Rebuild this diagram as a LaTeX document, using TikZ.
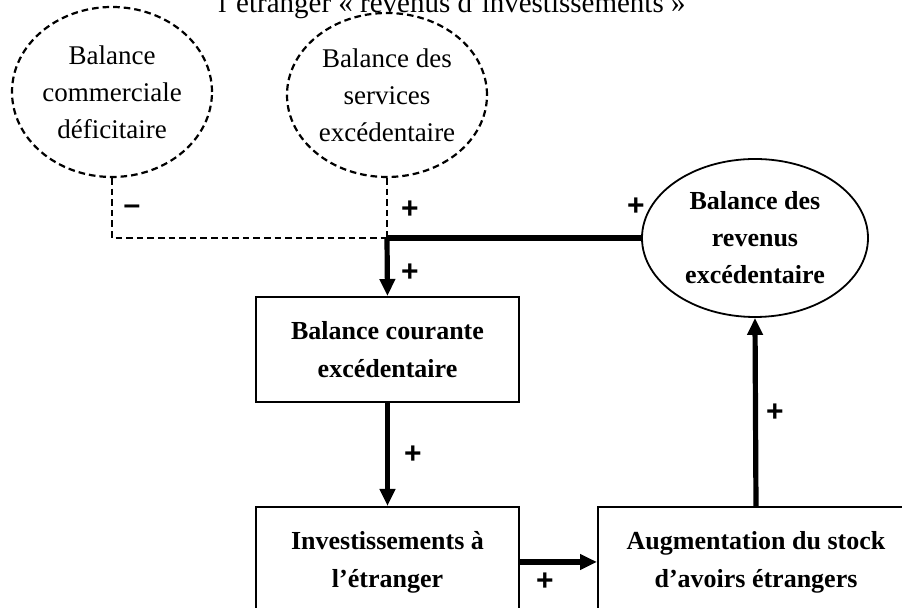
\documentclass[tikz,border=0pt]{standalone}
\usepackage{fontspec}
\setmainfont{Liberation Serif}
\newfontfamily\signfont{Liberation Sans}
\usetikzlibrary{shapes.geometric,arrows.meta}

\tikzset{
  ovale/.style={ellipse, draw, line width=1.1pt, dash pattern=on 3.3pt off 2pt,
    inner sep=-4pt, align=center, font=\fontsize{13.5}{18.5}\selectfont},
  ovalegras/.style={ellipse, draw, line width=0.9pt, inner sep=0pt, align=center,
    font=\bfseries\fontsize{13}{18.5}\selectfont},
  boite/.style={draw, line width=1pt, align=center, inner sep=0pt,
    font=\bfseries\fontsize{13}{19}\selectfont},
  signe/.style={font=\signfont\bfseries\fontsize{15}{15}\selectfont, inner sep=0pt},
  lien/.style={line width=1.1pt, dash pattern=on 3.3pt off 2pt},
  fleche/.style={line width=2.6pt, -{Triangle[length=8.5pt,width=7.5pt]}}
}

\begin{document}
\begin{tikzpicture}[x=0.5pt,y=-0.5pt]
    \useasboundingbox (0,0) rectangle (902,608);

    \node[anchor=base, font=\fontsize{14.5}{18.5}\selectfont] (titre) at (452,13)
        {l’étranger « revenus d’investissements »};

    % ellipses du haut
    \node[ovale, minimum width=100pt, minimum height=85pt] (commerce) at (112,92)
        {Balance\\commerciale\\déficitaire};
    \node[ovale, minimum width=100pt, minimum height=82pt] (services) at (387,95)
        {Balance des\\services\\excédentaire};
    \node[ovalegras, minimum width=113pt, minimum height=79pt] (revenus) at (755,238)
        {Balance des\\revenus\\excédentaire};

    % boites
    \node[boite, minimum width=131.5pt, minimum height=52.5pt] (courante) at (387.5,349.5)
        {Balance courante\\excédentaire};
    \node[boite, minimum width=131.5pt, minimum height=55pt] (invest) at (387.5,562)
        {Investissements à\\l’étranger};
    \node[boite, minimum width=158pt, minimum height=55pt] (stock) at (756,562)
        {Augmentation du stock\\d’avoirs étrangers};

    \coordinate (jonction) at (387,238);

    % liens
    \draw[lien] (commerce.south) |- (jonction);
    \draw[lien] (services.south) -- (jonction);
    \draw[line width=3.2pt] (revenus.west) -- (jonction); % retour des revenus
    \draw[fleche] (jonction) -- (courante.north);
    \draw[fleche] (courante.south) -- (invest.north);
    \draw[fleche, line width=3.4pt] (invest.east) -- (stock.west);
    \draw[fleche] (stock.north) -- (revenus.south);

    % signes
    \node[signe] (moins) at (132,210) {–};
    \node[signe] (plus1) at (410,210) {+};
    \node[signe] (plus2) at (636,207) {+};
    \node[signe] (plus3) at (410,273) {+};
    \node[signe] (plus4) at (413,455) {+};
    \node[signe] (plus5) at (545,582) {+};
    \node[signe] (plus6) at (775,413) {+};
\end{tikzpicture}
\end{document}
